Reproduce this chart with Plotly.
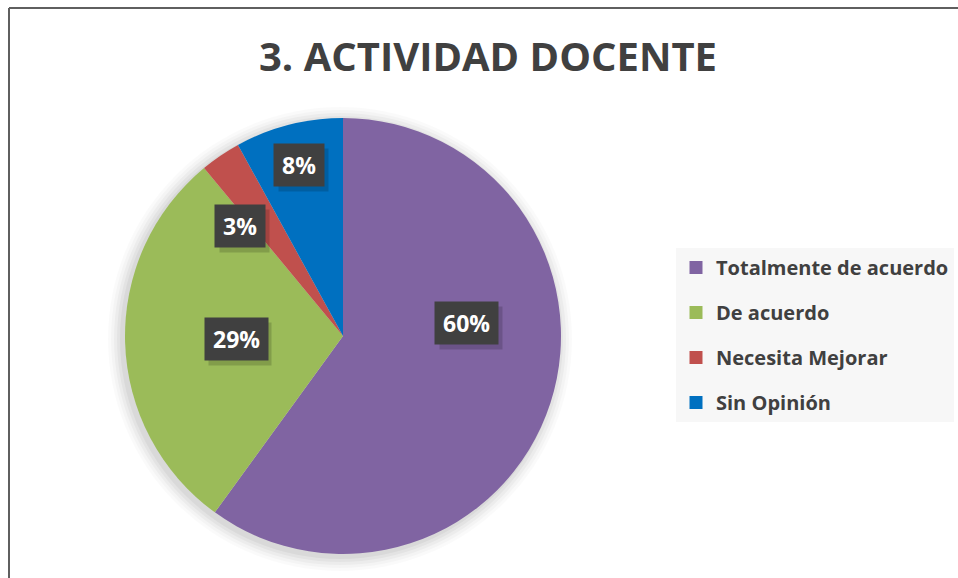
import math
import plotly.graph_objects as go

# ---- data ----
categories = ["Totalmente de acuerdo", "De acuerdo", "Necesita Mejorar", "Sin Opinión"]
values = [60, 29, 3, 8]
colors = ["#8064A2", "#9BBB59", "#C0504D", "#0070C0"]
title_text = "3. ACTIVIDAD DOCENTE"

# ---- layout parameters (pixels) ----
W, H = 958, 578
CX, CY, R = 343, 336, 218          # pie centre and radius
label_rfrac = [0.57, 0.49, 0.69, 0.81]   # label distance as fraction of radius
label_shift = [-24, 0, -9, 0]            # label angular nudge (deg)
TEXT_DARK = "#404040"
LABEL_SIZE = 23

def px_to_paper(x, y):
    return x / W, 1 - y / H

def domain_for(cx, cy, r):
    return dict(x=[(cx - r) / W, (cx + r) / W], y=[1 - (cy + r) / H, 1 - (cy - r) / H])

fig = go.Figure()

# soft shadow behind pie
for k, (grow, a) in enumerate([(14, 0.02), (11, 0.025), (8, 0.03), (5, 0.035), (2, 0.045)]):
    fig.add_trace(go.Pie(
        values=[1], labels=["shadow%d" % k], sort=False,
        marker=dict(colors=["rgba(0,0,0,%s)" % a], line=dict(width=0)),
        textinfo="none", hoverinfo="skip", showlegend=False,
        domain=domain_for(CX - 3, CY + 3, R + grow),
    ))

fig.add_trace(go.Pie(
    labels=categories, values=values, sort=False, direction="clockwise", rotation=0,
    marker=dict(colors=colors, line=dict(width=0)),
    textinfo="none", showlegend=False,
    domain=domain_for(CX, CY, R),
))

# legend via dummy traces (for spacing control)
for cat, col in zip(categories, colors):
    fig.add_trace(go.Scatter(
        x=[None], y=[None], mode="markers", name=cat, legendgroup=cat,
        marker=dict(symbol="square", size=13, color=col),
    ))

# data labels as boxed annotations, positioned from slice angles
total = sum(values)
annotations = []
cum = 0
for i, v in enumerate(values):
    mid = (cum + v / 2) / total * 360 + label_shift[i]
    cum += v
    rr = label_rfrac[i] * R
    lx = CX + rr * math.sin(math.radians(mid))
    ly = CY - rr * math.cos(math.radians(mid))
    txt = "%d%%" % round(v / total * 100)
    est_w = (len(txt) - 1) * 0.572 * LABEL_SIZE + 0.873 * LABEL_SIZE
    sx, sy = px_to_paper(lx + 4, ly + 5)
    annotations.append(dict(
        x=sx, y=sy, xref="paper", yref="paper", xanchor="center", yanchor="middle",
        text="&nbsp;", showarrow=False,
        font=dict(size=10), width=est_w, height=26,
        bgcolor="rgba(0,0,0,0.16)", borderpad=8,
    ))
    ax, ay = px_to_paper(lx, ly)
    annotations.append(dict(
        x=ax, y=ay, xref="paper", yref="paper", xanchor="center", yanchor="middle",
        text=txt, showarrow=False,
        font=dict(family="Open Sans", size=LABEL_SIZE, color="white", weight=700),
        bgcolor=TEXT_DARK, borderpad=8, height=26,
    ))

# chart border (left + top visible)
shapes = [
    dict(type="line", xref="paper", yref="paper", x0=9 / W, x1=1.02, y0=1 - 8 / H, y1=1 - 8 / H,
         line=dict(color="#5f5f5f", width=2)),
    dict(type="line", xref="paper", yref="paper", x0=9 / W, x1=9 / W, y0=1 - 8 / H, y1=-0.02,
         line=dict(color="#5f5f5f", width=2)),
]

fig.update_layout(
    width=W, height=H,
    margin=dict(l=0, r=0, t=0, b=0),
    paper_bgcolor="white", plot_bgcolor="rgba(0,0,0,0)",
    title=dict(text=title_text, x=488 / W, xanchor="center", y=1 - 57 / H, yanchor="middle",
               font=dict(family="Open Sans", size=40, color=TEXT_DARK, weight=700)),
    xaxis=dict(visible=False), yaxis=dict(visible=False),
    showlegend=True,
    legend=dict(x=676 / W, xanchor="left", y=1 - 248 / H, yanchor="top",
                bgcolor="#f7f7f7", tracegroupgap=16,
                font=dict(family="Open Sans", size=20, color=TEXT_DARK, weight=700),
                itemclick=False, itemdoubleclick=False),
    annotations=annotations,
    shapes=shapes,
)

fig.write_html("out.html", config={"displayModeBar": False},
               post_script="document.body.style.margin='0';document.body.style.overflow='hidden';")
